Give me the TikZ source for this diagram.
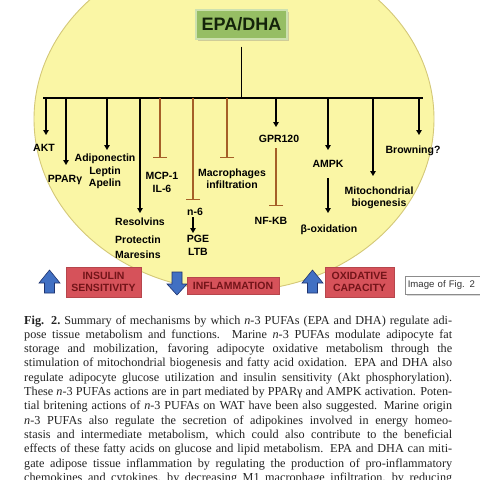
\documentclass[tikz,border=0pt]{standalone}
\usepackage{fontspec}
\setmainfont{Liberation Serif}
\newfontfamily\lsans{Liberation Sans}
\usetikzlibrary{arrows.meta,shadows}
\definecolor{ellfill}{RGB}{250,246,165}
\definecolor{elldraw}{RGB}{212,200,120}
\definecolor{epafill}{RGB}{150,190,100}
\definecolor{epadraw}{RGB}{205,225,175}
\definecolor{epatext}{RGB}{20,35,10}
\definecolor{inhib}{RGB}{165,95,40}
\definecolor{redbox}{RGB}{214,82,90}
\definecolor{redtext}{RGB}{115,20,25}
\definecolor{bluefill}{RGB}{65,112,195}
\definecolor{bluedraw}{RGB}{30,50,110}
\definecolor{captext}{RGB}{35,35,35}
\tikzset{
  lbl/.style={font=\lsans\bfseries\fontsize{10.5}{12.5}\selectfont, inner sep=0pt, anchor=base},
  lblw/.style={lbl, anchor=base west},
  blk/.style={line width=1.3pt, draw=black},
  arr/.style={blk, -{Triangle[length=5pt,width=5.5pt]}},
  inh/.style={draw=inhib, line width=1.3pt, -{Bar[width=14pt]}},
  epabox/.style={fill=epafill, draw=epadraw, line width=1.2pt, minimum width=91pt, minimum height=29pt,
     inner sep=0pt, text=epatext, font=\lsans\bfseries\fontsize{18}{20}\selectfont,
     drop shadow={opacity=0.35, shadow xshift=1.5pt, shadow yshift=-1.5pt}},
  redb/.style={fill=redbox, draw=redbox!85!black, line width=0.6pt, text=redtext, align=center, inner sep=0pt,
     font=\lsans\bfseries\fontsize{10.5}{12}\selectfont},
  imgbox/.style={fill=white, draw=black!45, line width=0.6pt, minimum height=18pt, text width=82pt,
     inner xsep=2.5pt, inner ysep=0pt, align=left, anchor=west, text=black!80,
     font=\lsans\fontsize{9.6}{11}\selectfont,
     drop shadow={opacity=0.3, shadow xshift=1.5pt, shadow yshift=-1.5pt}},
  capline/.style={anchor=base west, inner sep=0pt, text=captext, font=\fontsize{12.2}{14}\selectfont},
  uparr/.pic={\filldraw[fill=bluefill, draw=bluedraw, line width=0.6pt]
     (-10.5,13) -- (0,0) -- (10.5,13) -- (5,13) -- (5,23) -- (-5,23) -- (-5,13) -- cycle;},
  dnarr/.pic={\filldraw[fill=bluefill, draw=bluedraw, line width=0.6pt]
     (-5,0) -- (5,0) -- (5,12) -- (10,12) -- (0,23) -- (-10,12) -- (-5,12) -- cycle;}
}
\newcommand\capl[3]{\node[capline] (#1) at (24,#2) {\makebox[428pt][s]{#3}};}
\begin{document}
\begin{tikzpicture}[x=1pt,y=-1pt]
\useasboundingbox (0,0) rectangle (480,480);
\fill[white] (0,0) rectangle (480,480);
\begin{scope}
\clip (0,0) rectangle (480,480);
% ellipse
\filldraw[fill=ellfill, draw=elldraw, line width=0.9pt] (234,119) ellipse [x radius=200pt, y radius=172pt];
% root
\node[epabox] (epa) at (241.5,24.5) {EPA/DHA};
\coordinate (busL) at (43,98);
\coordinate (busR) at (423,98);
\coordinate (stem) at (epa.south |- busL);
\draw[blk] ([yshift=-7pt]epa.south) -- (stem);
\draw[blk] (busL) -- (busR);
% labels
\node[lbl] (akt) at (44,151) {AKT};
\node[lbl] (ppar) at (65,182) {PPARγ};
\node[lbl] (adipo) at (105,161) {Adiponectin};
\node[lbl] (leptin) at (105,174) {Leptin};
\node[lbl] (apelin) at (105,186) {Apelin};
\node[lblw] (resolv) at (115,225) {Resolvins};
\node[lblw] (protec) at (115,243) {Protectin};
\node[lblw] (mares) at (115,258) {Maresins};
\node[lbl] (mcp) at (162,179) {MCP-1};
\node[lbl] (il6) at (162,192) {IL-6};
\node[lbl] (n6) at (195,215) {n-6};
\node[lbl] (pge) at (198,242) {PGE};
\node[lbl] (ltb) at (198,255) {LTB};
\node[lbl] (macro) at (232,176) {Macrophages};
\node[lbl] (infil) at (232,188) {infiltration};
\node[lbl] (gpr) at (279,142) {GPR120};
\node[lbl] (nfkb) at (271,224) {NF-KB};
\node[lbl] (ampk) at (328,167) {AMPK};
\node[lbl] (boxid) at (329,232) {β-oxidation};
\node[lbl] (mito) at (379,194) {Mitochondrial};
\node[lbl] (biog) at (379,206) {biogenesis};
\node[lbl] (brown) at (413,153) {Browning?};
% branch points and tips
\foreach \n/\x in {1/46,2/66,3/107,4/140,5/160,6/193,7/227,8/276,9/328,10/373,11/419}
  {\coordinate (b\n) at (\x,98);}
\coordinate (t1) at (46,135);
\coordinate (t2) at (66,165);
\coordinate (t3) at (107,150);
\coordinate (t4) at (140,213);
\coordinate (t5) at (160,158);
\coordinate (t6) at (193,200);
\coordinate (t7) at (227,158);
\coordinate (t8) at (276,127);
\coordinate (t9) at (328,150);
\coordinate (t10) at (373,176);
\coordinate (t11) at (419,135);
\draw[arr] (b1) -- (t1);
\draw[arr] (b2) -- (t2);
\draw[arr] (b3) -- (t3);
\draw[arr] (b4) -- (t4);
\draw[inh] (b5) -- (t5);
\draw[inh] (b6) -- (t6);
\draw[inh] (b7) -- (t7);
\draw[arr] (b8) -- (t8);
\draw[arr] (b9) -- (t9);
\draw[arr] (b10) -- (t10);
\draw[arr] (b11) -- (t11);
% secondary connectors
\coordinate (g1) at (276,148);
\coordinate (g2) at (276,206);
\draw[inh] (g1) -- (g2);
\coordinate (a1) at (328,178);
\coordinate (a2) at (328,213);
\draw[arr] (a1) -- (a2);
\coordinate (m1) at (193,217);
\coordinate (m2) at (193,233);
\draw[arr] (m1) -- (m2);
% bottom outcome boxes
\pic at (49.5,270) {uparr};
\node[redb, minimum width=75pt, minimum height=30pt] (ins) at (103.5,282) {INSULIN\\SENSITIVITY};
\pic at (177,272) {dnarr};
\node[redb, minimum width=92pt, minimum height=17pt] (infl) at (233,285.5) {INFLAMMATION};
\pic at (312.5,270) {uparr};
\node[redb, minimum width=69pt, minimum height=30pt] (oxi) at (359.5,282) {OXIDATIVE\\CAPACITY};
\node[imgbox] (img) at (405,285) {Image of Fig. 2};
% caption
\capl{c1}{324}{\textbf{Fig. 2.}\hspace{4pt}Summary of mechanisms by which \textit{n}-3 PUFAs (EPA and DHA) regulate adi-}
\capl{c2}{338.3}{pose tissue metabolism and functions. Marine \textit{n}-3 PUFAs modulate adipocyte fat}
\capl{c3}{352.6}{storage and mobilization, favoring adipocyte oxidative metabolism through the}
\capl{c4}{366.9}{stimulation of mitochondrial biogenesis and fatty acid oxidation. EPA and DHA also}
\capl{c5}{381.2}{regulate adipocyte glucose utilization and insulin sensitivity (Akt phosphorylation).}
\capl{c6}{395.5}{These \textit{n}-3 PUFAs actions are in part mediated by PPARγ and AMPK activation. Poten-}
\capl{c7}{409.8}{tial britening actions of \textit{n}-3 PUFAs on WAT have been also suggested. Marine origin}
\capl{c8}{424.1}{\textit{n}-3 PUFAs also regulate the secretion of adipokines involved in energy homeo-}
\capl{c9}{438.4}{stasis and intermediate metabolism, which could also contribute to the beneficial}
\capl{c10}{452.7}{effects of these fatty acids on glucose and lipid metabolism. EPA and DHA can miti-}
\capl{c11}{467}{gate adipose tissue inflammation by regulating the production of pro-inflammatory}
\capl{c12}{481.3}{chemokines and cytokines, by decreasing M1 macrophage infiltration, by reducing}
\end{scope}
\end{tikzpicture}
\end{document}
